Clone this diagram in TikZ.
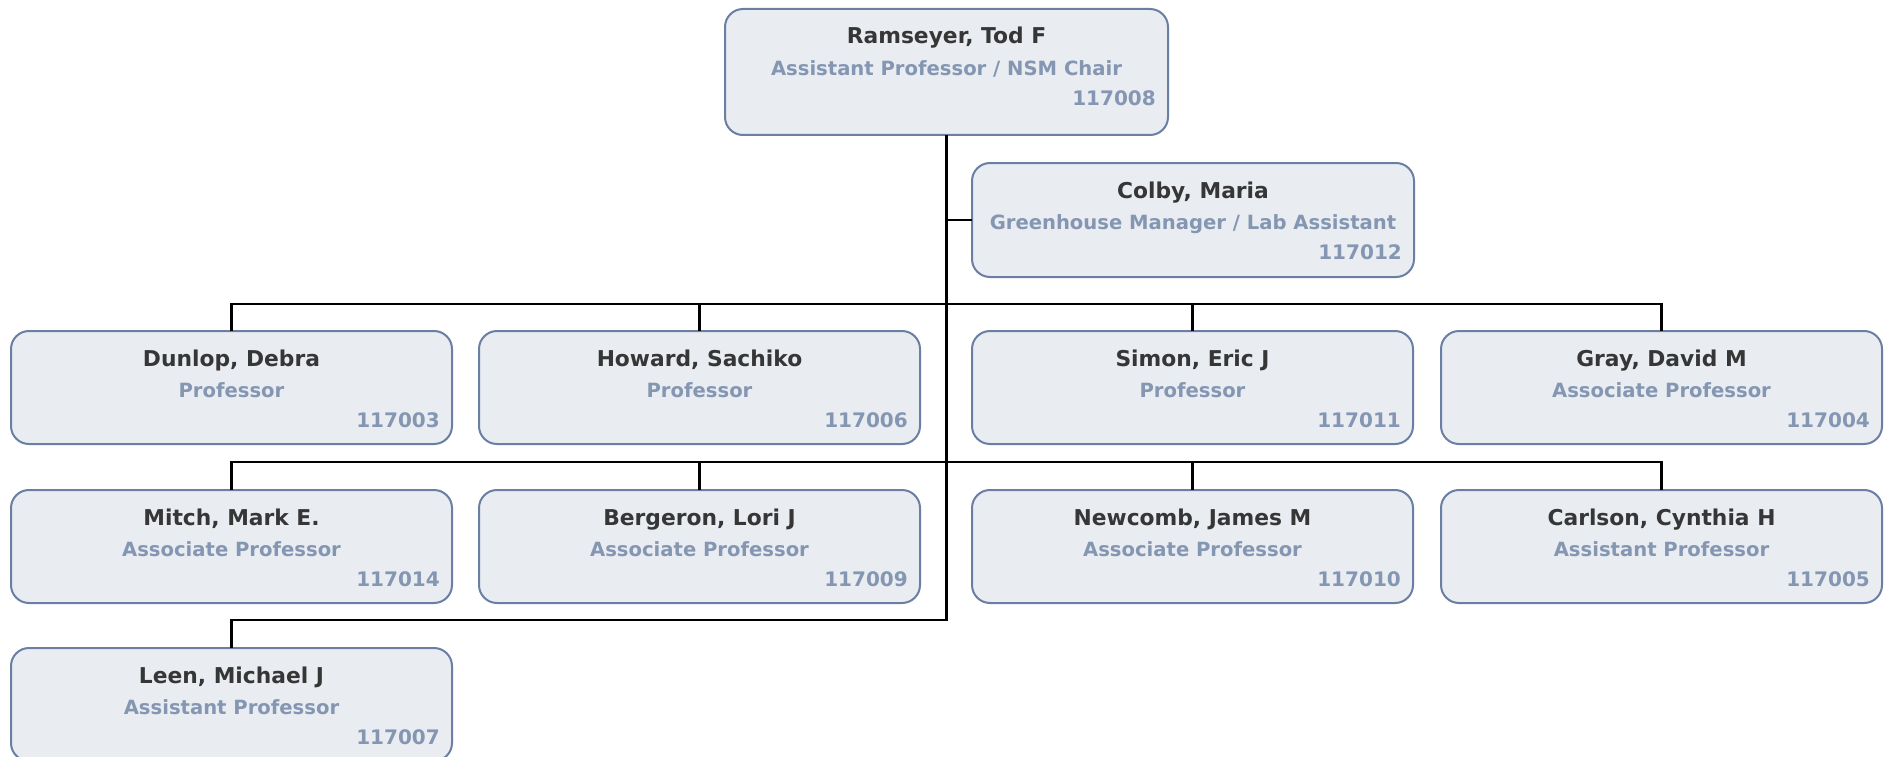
\documentclass[tikz,border=0pt]{standalone}
\usepackage{fontspec}
\setmainfont{DejaVu Sans}
\definecolor{cardfill}{RGB}{233,237,242}
\definecolor{cardline}{RGB}{106,127,163}
\definecolor{namecol}{RGB}{54,54,54}
\definecolor{rolecol}{RGB}{132,150,178}
\tikzset{
  card/.style={draw=cardline, fill=cardfill, line width=2pt, rounded corners=18pt,
    rectangle, inner sep=0pt, outer sep=0pt, anchor=north west},
  nametext/.style={inner sep=0pt, text=namecol, font=\fontsize{21.8pt}{26pt}\selectfont\bfseries},
  roletext/.style={inner sep=0pt, text=rolecol, font=\fontsize{19.6pt}{24pt}\selectfont\bfseries},
  idtext/.style={inner sep=0pt, text=rolecol, font=\fontsize{20pt}{24pt}\selectfont\bfseries},
  link/.style={draw=black, line width=2.2pt}
}
% one staff card: node name, left x, top y, width, height, name, title, number
\newcommand\orgbox[8]{%
  \node[card, minimum width=#4pt, minimum height=#5pt] (#1) at (#2,#3) {};
  \node[nametext, anchor=base] (#1-name) at ([yshift=-35pt]#1.north) {#6};
  \node[roletext, anchor=base] (#1-role) at ([yshift=-66.5pt]#1.north) {#7};
  \node[idtext, anchor=base east] (#1-id) at ([xshift=-12pt,yshift=-96.5pt]#1.north east) {#8};
}
\begin{document}
\begin{tikzpicture}[x=1pt,y=-1pt]
\clip (0,0) rectangle (1889,757);
\fill[white] (0,0) rectangle (1889,757);

\orgbox{chair}{725}{9}{443}{126}{Ramseyer, Tod F}{Assistant Professor / NSM Chair}{117008}
\orgbox{colby}{972}{163}{442}{114}{Colby, Maria}{Greenhouse Manager / Lab Assistant}{117012}

\orgbox{dunlop}{11}{331}{441}{113}{Dunlop, Debra}{Professor}{117003}
\orgbox{howard}{479}{331}{441}{113}{Howard, Sachiko}{Professor}{117006}
\orgbox{simon}{972}{331}{441}{113}{Simon, Eric J}{Professor}{117011}
\orgbox{gray}{1441}{331}{441}{113}{Gray, David M}{Associate Professor}{117004}

\orgbox{mitch}{11}{490}{441}{113}{Mitch, Mark E.}{Associate Professor}{117014}
\orgbox{bergeron}{479}{490}{441}{113}{Bergeron, Lori J}{Associate Professor}{117009}
\orgbox{newcomb}{972}{490}{441}{113}{Newcomb, James M}{Associate Professor}{117010}
\orgbox{carlson}{1441}{490}{441}{113}{Carlson, Cynthia H}{Assistant Professor}{117005}

\orgbox{leen}{11}{648}{441}{113}{Leen, Michael J}{Assistant Professor}{117007}

% bus levels, all on the vertical trunk below the chair
\coordinate (bus1) at ([yshift=-169pt]chair.south);
\coordinate (bus2) at ([yshift=-327pt]chair.south);
\coordinate (trunkend) at ([yshift=-485pt]chair.south);

\draw[link] (chair.south) -- (trunkend) -| (leen.north);
\draw[link] (chair.south |- colby.west) -- (colby.west);
\draw[link] (dunlop.north) |- (bus1) -| (gray.north);
\draw[link] (howard.north) -- (howard.north |- bus1);
\draw[link] (simon.north) -- (simon.north |- bus1);
\draw[link] (mitch.north) |- (bus2) -| (carlson.north);
\draw[link] (bergeron.north) -- (bergeron.north |- bus2);
\draw[link] (newcomb.north) -- (newcomb.north |- bus2);
\end{tikzpicture}
\end{document}
